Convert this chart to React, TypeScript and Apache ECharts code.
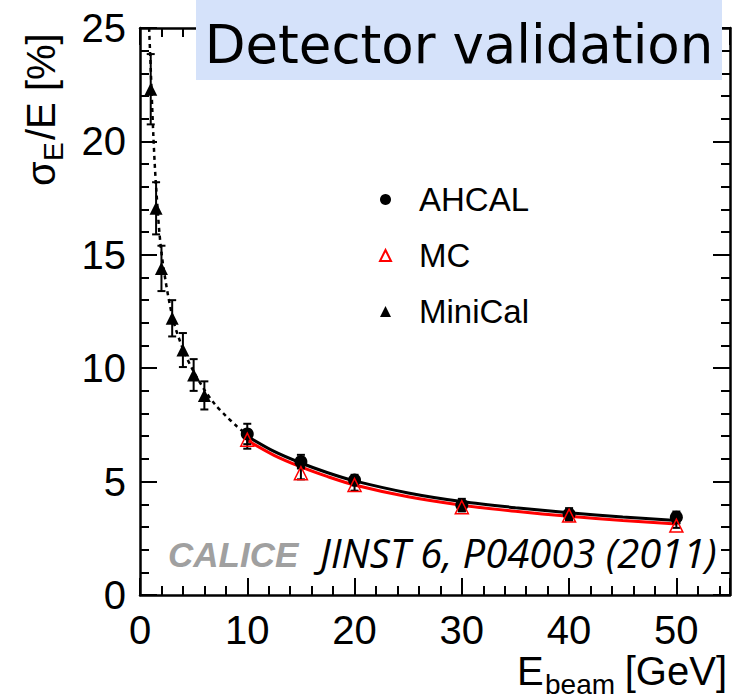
import React, { useEffect, useRef } from 'react';
import * as echarts from 'echarts';

// MiniCal test-beam points (low energies)
const minicalEnergy = [1, 1.5, 2, 3, 4, 5, 6];
const minicalRes = [22.3, 17.05, 14.4, 12.2, 10.8, 9.7, 8.8];
const minicalErr = [1.55, 1.15, 1.0, 0.8, 0.75, 0.7, 0.62];

// AHCAL data and simulation
const ahcalEnergy = [10, 15, 20, 30, 40, 50];
const ahcalRes = [7.1, 5.88, 5.07, 3.97, 3.57, 3.43];
const ahcalErr = [0.45, 0.3, 0.23, 0.27, 0.26, 0.25];
const mcRes = [6.85, 5.37, 4.85, 3.87, 3.5, 3.06];
const mcErr = [0.4, 0.27, 0.25, 0.18, 0.22, 0.1];

// Resolution fit curves, sampled along their length
const minicalFitE = [0.85, 1, 1.25, 1.5, 2, 3, 4, 5, 6, 7, 8, 9, 10];
const minicalFitRes = [25, 23.2, 20.2, 18.0, 15.1, 12.3, 10.85, 9.85, 9.05, 8.4, 7.9, 7.45, 7.05];
const fitE = [10, 12.5, 15, 17.5, 20, 25, 30, 35, 40, 45, 50];
const ahcalFitRes = [7.0, 6.33, 5.82, 5.39, 5.03, 4.5, 4.12, 3.85, 3.63, 3.44, 3.28];
const mcFitRes = [6.82, 6.16, 5.65, 5.22, 4.85, 4.33, 3.96, 3.69, 3.47, 3.29, 3.13];

// Axis ranges
const xMin = 0;
const xMax = 55;
const xStep = 10;
const yMin = 0;
const yMax = 25;
const yStep = 5;

const FONT = '"Liberation Sans", Arial, Helvetica, sans-serif';

const pairs = (xs: number[], ys: number[]) => xs.map((x, i) => [x, ys[i]]);
const bars = (xs: number[], ys: number[], es: number[]) =>
  xs.map((x, i) => [x, ys[i] - es[i], ys[i] + es[i]]);

const errorBars = (data: number[][], capHalf: number) => ({
  type: 'custom',
  silent: true,
  z: 3,
  encode: { x: 0, y: [1, 2] },
  data,
  renderItem: (_params: any, api: any) => {
    const x = api.value(0);
    const lo = api.coord([x, api.value(1)]);
    const hi = api.coord([x, api.value(2)]);
    const style = { stroke: '#000', lineWidth: 2 };
    return {
      type: 'group',
      children: [
        { type: 'line', shape: { x1: lo[0], y1: lo[1], x2: hi[0], y2: hi[1] }, style },
        { type: 'line', shape: { x1: lo[0] - capHalf, y1: lo[1], x2: lo[0] + capHalf, y2: lo[1] }, style },
        { type: 'line', shape: { x1: hi[0] - capHalf, y1: hi[1], x2: hi[0] + capHalf, y2: hi[1] }, style },
      ],
    };
  },
});

const frameAxis = {
  axisLine: { show: true, onZero: false, lineStyle: { color: '#000', width: 2.5 } },
  axisTick: { show: true, inside: true, length: 17, lineStyle: { color: '#000', width: 2 } },
  minorTick: { show: true, splitNumber: 5, length: 9, lineStyle: { color: '#000', width: 2 } },
  splitLine: { show: false },
  minorSplitLine: { show: false },
};

const fitLine = (name: string, xs: number[], ys: number[], color: string, width: number, type: any) => ({
  name,
  type: 'line',
  data: pairs(xs, ys),
  showSymbol: false,
  smooth: 0.3,
  silent: true,
  z: 2,
  lineStyle: { color, width, type },
});

export default function App() {
  const ref = useRef<HTMLDivElement>(null);

  useEffect(() => {
    if (!ref.current) return;
    const chart = echarts.init(ref.current, null, { renderer: 'svg' });

    const option: any = {
      animation: false,
      backgroundColor: '#fff',
      grid: { left: 140, right: 3, top: 28, bottom: 104, containLabel: false, outerBoundsMode: 'none' },
      xAxis: [
        {
          type: 'value',
          position: 'bottom',
          min: xMin,
          max: xMax,
          interval: xStep,
          ...frameAxis,
          axisLabel: {
            fontSize: 40,
            lineHeight: 30,
            fontFamily: FONT,
            color: '#000',
            margin: 20,
            showMaxLabel: false,
            formatter: (v: number) => (v % xStep === 0 ? String(v) : ''),
          },
        },
        {
          type: 'value',
          position: 'top',
          min: xMin,
          max: xMax,
          interval: xStep,
          ...frameAxis,
          axisLabel: { show: false },
        },
      ],
      yAxis: [
        {
          type: 'value',
          position: 'left',
          min: yMin,
          max: yMax,
          interval: yStep,
          ...frameAxis,
          axisLabel: { fontSize: 40, fontFamily: FONT, color: '#000', margin: 14 },
        },
        {
          type: 'value',
          position: 'right',
          min: yMin,
          max: yMax,
          interval: yStep,
          ...frameAxis,
          axisLabel: { show: false },
        },
      ],
      legend: {
        data: ['AHCAL', 'MC', 'MiniCal'],
        orient: 'vertical',
        left: 374,
        top: 178,
        itemWidth: 11,
        itemHeight: 11,
        itemGap: 23,
        selectedMode: false,
        textStyle: { fontSize: 33, fontFamily: FONT, color: '#000', padding: [0, 0, 0, 23] },
      },
      series: [
        fitLine('MiniCal fit', minicalFitE, minicalFitRes, '#000', 2.5, [4, 4]),
        fitLine('MC fit', fitE, mcFitRes, '#ff0000', 3, 'solid'),
        fitLine('AHCAL fit', fitE, ahcalFitRes, '#000', 3, 'solid'),
        errorBars(bars(minicalEnergy, minicalRes, minicalErr), 4),
        errorBars(bars(ahcalEnergy, ahcalRes, ahcalErr), 4),
        errorBars(bars(ahcalEnergy, mcRes, mcErr), 4),
        {
          name: 'MiniCal',
          type: 'scatter',
          data: pairs(minicalEnergy, minicalRes),
          symbol: 'triangle',
          symbolSize: 13,
          z: 5,
          itemStyle: { color: '#000', opacity: 1 },
        },
        {
          name: 'AHCAL',
          type: 'scatter',
          data: pairs(ahcalEnergy, ahcalRes),
          symbol: 'circle',
          symbolSize: 13,
          z: 5,
          itemStyle: { color: '#000', opacity: 1 },
        },
        {
          name: 'MC',
          type: 'scatter',
          data: pairs(ahcalEnergy, mcRes),
          symbol: 'triangle',
          symbolSize: 13,
          z: 6,
          itemStyle: { color: 'rgba(255,255,255,0)', borderColor: '#ff0000', borderWidth: 1.5, opacity: 1 },
        },
      ],
      graphic: [
        {
          type: 'rect',
          z: 100,
          shape: { x: 196, y: 0, width: 526, height: 80 },
          style: { fill: '#d5e2fa' },
        },
        {
          type: 'text',
          z: 101,
          x: 459,
          y: 44,
          style: {
            text: 'Detector validation',
            fontSize: 53,
            fontFamily: '"DejaVu Sans", Verdana, sans-serif',
            fill: '#000',
            align: 'center',
            verticalAlign: 'middle',
          },
        },
        {
          type: 'text',
          z: 101,
          x: 168,
          y: 554,
          style: {
            text: 'CALICE',
            fontSize: 35,
            fontWeight: 'bold',
            fontStyle: 'italic',
            fontFamily: FONT,
            fill: '#a0a0a0',
            align: 'left',
            verticalAlign: 'middle',
          },
        },
        {
          type: 'text',
          z: 101,
          x: 320,
          y: 552,
          style: {
            text: 'JINST 6, P04003 (2011)',
            fontSize: 40,
            fontStyle: 'italic',
            fontFamily: '"Open Sans", sans-serif',
            fill: '#000',
            align: 'left',
            verticalAlign: 'middle',
          },
        },
        // x-axis title: E_beam [GeV]
        {
          type: 'text',
          z: 101,
          x: 517,
          y: 671,
          style: { text: 'E', fontSize: 40, lineHeight: 30, fontFamily: FONT, fill: '#000', align: 'left', verticalAlign: 'middle' },
        },
        {
          type: 'text',
          z: 101,
          x: 545,
          y: 684,
          style: { text: 'beam', fontSize: 28, lineHeight: 20, fontFamily: FONT, fill: '#000', align: 'left', verticalAlign: 'middle' },
        },
        {
          type: 'text',
          z: 101,
          x: 727,
          y: 671,
          style: { text: '[GeV]', fontSize: 40, lineHeight: 30, fontFamily: FONT, fill: '#000', align: 'right', verticalAlign: 'middle' },
        },
        // y-axis title: sigma_E/E [%], reading upwards
        {
          type: 'group',
          z: 101,
          x: 55,
          y: 186,
          rotation: Math.PI / 2,
          children: [
            {
              type: 'text',
              x: 0,
              y: -14,
              style: { text: 'σ', fontSize: 40, fontFamily: FONT, fill: '#000', align: 'left', verticalAlign: 'middle' },
            },
            {
              type: 'text',
              x: 25,
              y: -2,
              style: { text: 'E', fontSize: 28, fontFamily: FONT, fill: '#000', align: 'left', verticalAlign: 'middle' },
            },
            {
              type: 'text',
              x: 46,
              y: -14,
              style: { text: '/E [%]', fontSize: 40, fontFamily: FONT, fill: '#000', align: 'left', verticalAlign: 'middle' },
            },
          ],
        },
      ],
    };

    chart.setOption(option);
    return () => chart.dispose();
  }, []);

  return (
    <div
      ref={ref}
      style={{ position: 'fixed', left: 0, top: 0, width: 733, height: 699, background: '#fff' }}
    />
  );
}
